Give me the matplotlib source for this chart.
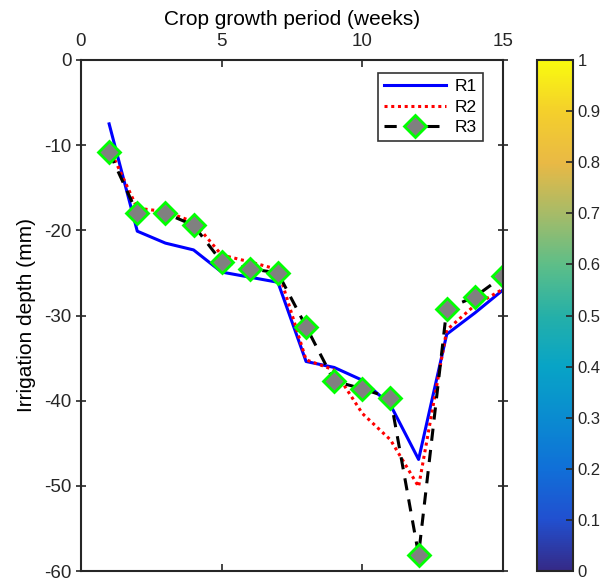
import numpy as np
import matplotlib
matplotlib.use('Agg')
import matplotlib.pyplot as plt
from matplotlib.colors import LinearSegmentedColormap, Normalize
from matplotlib.cm import ScalarMappable

plt.rcParams['font.family'] = ['Liberation Sans', 'DejaVu Sans']
plt.rcParams['axes.unicode_minus'] = False

# Semanas del periodo de cultivo
semanas = [1, 2, 3, 4, 5, 6, 7, 8, 9, 10, 11, 12, 13, 14, 15]
# Lámina de riego (mm) para cada repetición
r1 = [-7.5, -20.1, -21.5, -22.3, -24.9, -25.5, -26.1, -35.4, -36.1, -37.6, -40.5, -46.9, -32.2, -29.7, -27.0]
r2 = [-10.3, -17.4, -17.8, -19.0, -22.9, -23.7, -24.6, -35.2, -36.4, -41.5, -44.6, -50.1, -31.7, -28.8, -26.9]
r3 = [-10.8, -18.0, -18.0, -19.4, -23.7, -24.5, -25.0, -31.3, -37.7, -38.6, -39.7, -58.1, -29.2, -27.8, -25.4]

xticks = [0, 5, 10, 15]
yticks = [0, -10, -20, -30, -40, -50, -60]
cticks = [0, 0.1, 0.2, 0.3, 0.4, 0.5, 0.6, 0.7, 0.8, 0.9, 1]

# Mapa de colores tipo parula
parula = LinearSegmentedColormap.from_list('parula', [
    (0.00, '#352a87'), (0.10, '#2150d0'), (0.20, '#1070d8'),
    (0.30, '#0a8cd0'), (0.40, '#08a4c6'), (0.50, '#25b0a8'),
    (0.60, '#5dbe88'), (0.70, '#a6bb68'), (0.80, '#e9b945'),
    (0.90, '#f4cf2c'), (1.00, '#f9fb0e')])

fig = plt.figure(figsize=(6.06, 5.80), dpi=100)
ax = fig.add_axes([81/606, 1 - 571/580, (503 - 81)/606, (571 - 60)/580])

ax.plot(semanas, r1, color='#0000ff', linewidth=2.2, label='R1')
ax.plot(semanas, r2, color='#ff0000', linewidth=2.2, linestyle=(0, (1, 1.2)), label='R2')
ax.plot(semanas, r3, color='black', linewidth=2.2, linestyle=(0, (4, 3)),
        marker='D', markersize=11, markerfacecolor='#808080',
        markeredgecolor='#00ff00', markeredgewidth=2, label='R3')

ax.set_xlim(0, 15)
ax.set_ylim(-60, 0)
ax.set_xticks(xticks)
ax.set_yticks(yticks)
ax.xaxis.tick_top()
ax.xaxis.set_label_position('top')
ax.set_xlabel('Crop growth period (weeks)', fontsize=15, labelpad=6)
ax.set_ylabel('Irrigation depth (mm)', fontsize=15, labelpad=6)
ax.tick_params(axis='both', labelsize=13.5, direction='in', length=5, width=1.2,
               top=True, bottom=True, left=True, right=True, colors='#262626')
ax.tick_params(axis='x', pad=7)
ax.tick_params(axis='y', direction='inout', length=7)
for s in ax.spines.values():
    s.set_linewidth(1.5)
    s.set_color('#262626')

leg = ax.legend(loc='upper right', bbox_to_anchor=(0.953, 0.975), borderaxespad=0,
                fontsize=12.5, handlelength=3.6, fancybox=False, framealpha=1,
                borderpad=0.35, labelspacing=0.32, handletextpad=0.5)
leg.get_frame().set_edgecolor('#333333')
leg.get_frame().set_linewidth(1.2)

# Barra de colores
cax = fig.add_axes([537/606, 1 - 571/580, 36/606, (571 - 60)/580])
cb = fig.colorbar(ScalarMappable(norm=Normalize(0, 1), cmap=parula), cax=cax, ticks=cticks)
cb.ax.set_yticklabels(['%g' % t for t in cticks])
cb.ax.tick_params(labelsize=12, direction='in', length=5, width=1.2, colors='#262626')
cb.outline.set_linewidth(1.5)
cb.outline.set_edgecolor('#262626')

fig.savefig('out.png', dpi=100)
